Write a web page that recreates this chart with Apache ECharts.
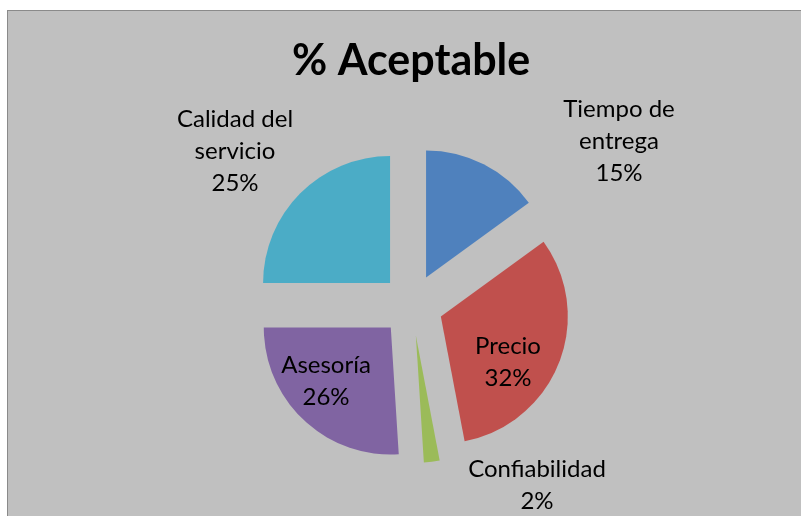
<!DOCTYPE html>
<html>
<head>
<meta charset="utf-8">
<script src="https://cdn.jsdelivr.net/npm/echarts@6/dist/echarts.min.js"></script>
<style>
    html, body { margin: 0; padding: 0; background: #ffffff; }
    #frame {
        position: absolute; left: 7px; top: 10px; width: 793px; height: 505px;
        background: #c0c0c0; border-top: 1px solid #8a8a8a; border-left: 1px solid #8a8a8a;
    }
    #chart { width: 100%; height: 100%; }
</style>
</head>
<body>
<div id="frame"><div id="chart"></div></div>
<script>
const categories = ['Tiempo de entrega', 'Precio', 'Confiabilidad', 'Asesoría', 'Calidad del servicio']
const values = [15, 32, 2, 26, 25]
const colors = ['#4f81bd', '#c0504d', '#9bbb59', '#8064a2', '#4bacc6']

// where each label sits, in chart pixels
const labelSpots = [[611, 130], [500, 351], [529, 474], [318, 370], [227, 140]]

const pieCenter = [404, 294]
const explode = 31

const chartDom = document.getElementById('chart')
const myChart = echarts.init(chartDom)

const total = values.reduce((a, b) => a + b, 0)

// every slice is pulled out of the pie, so each one gets its own series
// with the same data and only its own slice painted
let cum = 0
const series = categories.map((cat, i) => {
    const mid = (cum + values[i] / 2) / total * Math.PI * 2
    cum += values[i]
    return {
        type: 'pie',
        center: [pieCenter[0] + explode * Math.sin(mid), pieCenter[1] - explode * Math.cos(mid)],
        radius: 127,
        startAngle: 90,
        clockwise: true,
        silent: true,
        avoidLabelOverlap: false,
        data: categories.map((name, j) => ({
            name: name,
            value: values[j],
            itemStyle: { color: j === i ? colors[j] : 'rgba(0,0,0,0)' },
            label: { show: j === i }
        })),
        itemStyle: { borderWidth: 0 },
        label: {
            position: 'outside',
            formatter: (p) => {
                const name = p.name.length > 14 ? p.name.replace(/ (\S+)$/, '\n$1') : p.name
                return name + '\n' + p.value + '%'
            },
            fontFamily: 'Lato',
            fontSize: 24,
            lineHeight: 32,
            color: '#000'
        },
        labelLine: { show: false },
        labelLayout: () => ({
            x: labelSpots[i][0],
            y: labelSpots[i][1],
            align: 'center',
            verticalAlign: 'middle'
        })
    }
})

const option = {
    animation: false,
    title: {
        text: '% Aceptable',
        left: 279,
        top: 24,
        textStyle: { fontFamily: 'Lato', fontWeight: 'bold', fontSize: 43, color: '#000' }
    },
    series: series
}

myChart.setOption(option)
window.addEventListener('resize', () => {
    myChart.resize()
})
</script>
</body>
</html>
